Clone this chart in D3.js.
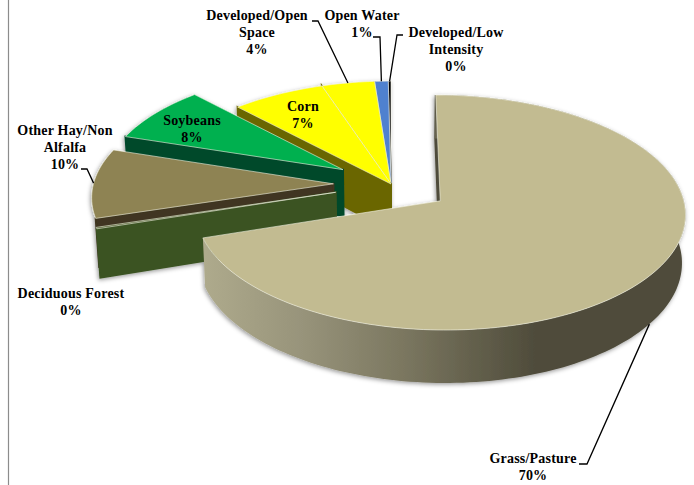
<!DOCTYPE html>
<html>
<head>
<meta charset="utf-8">
<script src="https://cdnjs.cloudflare.com/ajax/libs/d3/7.8.5/d3.min.js"></script>
<style>
  html, body { margin: 0; padding: 0; background: #fff; }
  svg { display: block; }
  text { font-family: "Liberation Serif", serif; font-weight: bold; font-size: 14px; fill: #000; letter-spacing: 0.2px; }
</style>
</head>
<body>
<svg id="chart"></svg>
<script>
// Data
const categories = ["Grass/Pasture", "Deciduous Forest", "Other Hay/Non Alfalfa", "Soybeans", "Corn", "Developed/Open Space", "Open Water", "Developed/Low Intensity"];
const values = [70.0, 0.2, 9.8, 8.0, 6.9, 3.9, 1.0, 0.2];
const labelLines = [["Grass/Pasture"], ["Deciduous Forest"], ["Other Hay/Non", "Alfalfa"], ["Soybeans"], ["Corn"], ["Developed/Open", "Space"], ["Open Water"], ["Developed/Low", "Intensity"]];
const withLeader = ["Grass/Pasture", "Other Hay/Non Alfalfa", "Developed/Open Space", "Open Water", "Developed/Low Intensity"];

// Colours
const topColors = ["#c2bb91", "#4b5a2a", "#8e8352", "#00b050", "#ffff00", "#ffff00", "#4f81cf", "#000000"];
const wallColors = ["#4f4c3b", "#3b5323", "#3f3620", "#00482a", "#6b6600", "#6b6600", "#2f4f80", "#000000"];

let width = 694;
let height = 485;
let svg = d3.select("#chart").attr("width", width).attr("height", height);

let topColor = d3.scaleOrdinal().domain(categories).range(topColors);
let wallColor = d3.scaleOrdinal().domain(categories).range(wallColors);

// Pie layout, clockwise from 12 o'clock
let pie = d3.pie().sort(null).value((d) => d.value);
let slices = pie(categories.map((name, i) => ({ name: name, value: values[i], lines: labelLines[i] })));

// Tilted disc with some perspective
let centerX = 391;
let centerY = 184;
let radiusX = 240;
let radiusY = 113;
let perspective = 0.098;
let depth = 47;

// How far each slice is pulled out, as a share of the radius
const explosion = {
  "Grass/Pasture": 0.25,
  "Deciduous Forest": 0.24,
  "Other Hay/Non Alfalfa": 0.24,
  "Soybeans": 0.24,
};

const project = (px, py, down) => {
  let s = 1 / (1 - perspective * py);
  let x = centerX + radiusX * px * s;
  let y = centerY + radiusY * py * s;
  if (down) {
    x -= (x - centerX) * 0.012;
    y += depth * s;
  }
  return [x, y];
};

const offset = (d) => {
  let e = explosion[d.data.name] || 0;
  let mid = (d.startAngle + d.endAngle) / 2;
  return [e * Math.sin(mid), -e * Math.cos(mid)];
};

const apex = (d, down) => {
  let o = offset(d);
  return project(o[0], o[1], down);
};

const rim = (d, angle, down) => {
  let o = offset(d);
  return project(o[0] + Math.sin(angle), o[1] - Math.cos(angle), down);
};

const rimPoints = (d, down) => {
  let n = Math.max(2, Math.ceil((d.endAngle - d.startAngle) * 40));
  return d3.range(n + 1).map((i) => rim(d, d.startAngle + ((d.endAngle - d.startAngle) * i) / n, down));
};

let closed = d3.line().curve(d3.curveLinearClosed);

// Gradient for the big slice's outer wall
let defs = svg.append("defs");
let wallGradient = defs
  .append("linearGradient")
  .attr("id", "grass-wall")
  .attr("gradientUnits", "userSpaceOnUse")
  .attr("x1", 205)
  .attr("x2", 535)
  .attr("y1", 0)
  .attr("y2", 0);
[
  [0, "#aeaa8c"],
  [0.3, "#97937a"],
  [0.6, "#7b7760"],
  [1, "#4f4c3b"],
].forEach((s) => wallGradient.append("stop").attr("offset", s[0]).attr("stop-color", s[1]));

let shadow = defs
  .append("filter")
  .attr("id", "soft-shadow")
  .attr("x", "-5%")
  .attr("y", "-5%")
  .attr("width", "110%")
  .attr("height", "110%");
shadow
  .append("feDropShadow")
  .attr("dx", -1)
  .attr("dy", 1.5)
  .attr("stdDeviation", 2)
  .attr("flood-color", "#000")
  .attr("flood-opacity", 0.4);

// Grey rule on the left of the picture
svg
  .append("line")
  .attr("x1", 8.5)
  .attr("x2", 8.5)
  .attr("y1", 0)
  .attr("y2", height)
  .attr("stroke", "#8c8c8c")
  .attr("stroke-width", 1.2);

// Slices, back to front
let pieGroup = svg.append("g").attr("filter", "url(#soft-shadow)");
slices
  .slice()
  .reverse()
  .forEach((d) => {
    let g = pieGroup.append("g").attr("class", "slice");
    let mid = (d.startAngle + d.endAngle) / 2;
    let wall = wallColor(d.data.name);

    // side facing the viewer along the first radius
    g.append("path")
      .attr("d", closed([apex(d, false), rim(d, d.startAngle, false), rim(d, d.startAngle, true), apex(d, true)]))
      .attr("fill", wall)
      .attr("stroke", wall)
      .attr("stroke-width", 2);

    // outer wall, only for slices on the front half
    if (-Math.cos(mid) > 0.01) {
      g.append("path")
        .attr("d", closed(rimPoints(d, false).concat(rimPoints(d, true).reverse())))
        .attr("fill", d.data.name === "Grass/Pasture" ? "url(#grass-wall)" : wall);
    }

    g.append("path")
      .attr("d", closed([apex(d, false)].concat(rimPoints(d, false))))
      .attr("fill", topColor(d.data.name))
      .attr("stroke", "#f4f3e4")
      .attr("stroke-opacity", 0.75)
      .attr("stroke-width", 0.8);
  });

// Where each label sits
const labelPos = {
  "Grass/Pasture": [533, 463],
  "Deciduous Forest": [71, 298],
  "Other Hay/Non Alfalfa": [65, 135],
  "Soybeans": [192, 125],
  "Corn": [303, 111],
  "Developed/Open Space": [257, 20],
  "Open Water": [362, 20],
  "Developed/Low Intensity": [456, 37],
};
// Elbow of each leader line
const leaderStart = {
  "Grass/Pasture": [[579, 464], [587, 464]],
  "Other Hay/Non Alfalfa": [[81, 169], [87, 169]],
  "Developed/Open Space": [[312, 21], [318, 21]],
  "Open Water": [[373, 37], [380, 37]],
  "Developed/Low Intensity": [[403, 35], [397, 35]],
};

let leader = d3.line();
slices
  .filter((d) => withLeader.includes(d.data.name))
  .forEach((d) => {
    let mid = (d.startAngle + d.endAngle) / 2;
    let end = rim(d, mid, d.data.name === "Grass/Pasture");
    svg
      .append("path")
      .attr("d", leader(leaderStart[d.data.name].concat([end])))
      .attr("fill", "none")
      .attr("stroke", "#000")
      .attr("stroke-width", 1.3);
  });

// Labels
slices.forEach((d) => {
  let pos = labelPos[d.data.name];
  let lines = d.data.lines.concat([d3.format(".0f")(d.data.value) + "%"]);
  let t = svg
    .append("text")
    .attr("text-anchor", "middle")
    .attr("transform", "translate(" + pos[0] + "," + pos[1] + ")");
  lines.forEach((line, i) => {
    t.append("tspan").attr("x", 0).attr("y", i * 16.8).text(line);
  });
});
</script>
</body>
</html>
